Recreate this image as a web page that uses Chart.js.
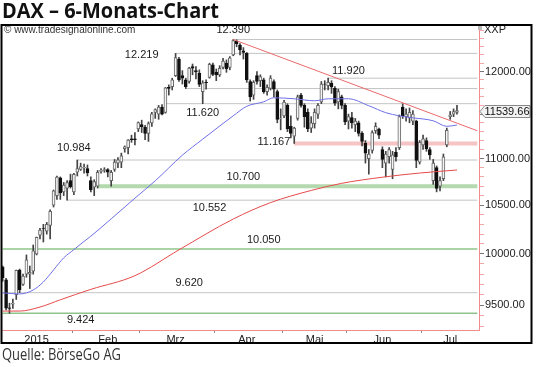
<!DOCTYPE html>
<html>
<head>
<meta charset="utf-8">
<script src="https://cdn.jsdelivr.net/npm/chart.js@4.4.1/dist/chart.umd.min.js"></script>
<style>
  body { margin: 0; background: #fff; width: 540px; height: 367px; overflow: hidden; position: relative; }
  canvas { position: absolute; left: 0; top: 0; }
  #title { position: absolute; left: 2px; top: 0; font: bold 21px "Open Sans"; line-height: 21px; color: #111;
           white-space: nowrap; transform: scaleX(0.95); transform-origin: 0 0; }
  #src { position: absolute; left: 2px; top: 346px; font: 16px "Open Sans"; line-height: 16px; color: #333;
         white-space: nowrap; transform: scaleX(0.81); transform-origin: 0 0; }
</style>
</head>
<body>
<canvas id="chart" width="540" height="367"></canvas>
<div id="title">DAX – 6-Monats-Chart</div>
<div id="src">Quelle: BörseGo AG</div>
<script>
// trading days, Jan 2 - Jul 15 2015
const days = [
  '02.01','05.01','06.01','07.01','08.01','09.01','12.01','13.01','14.01','15.01','16.01','19.01','20.01','21.01','22.01','23.01','26.01','27.01','28.01','29.01','30.01',
  '02.02','03.02','04.02','05.02','06.02','09.02','10.02','11.02','12.02','13.02','16.02','17.02','18.02','19.02','20.02','23.02','24.02','25.02','26.02','27.02',
  '02.03','03.03','04.03','05.03','06.03','09.03','10.03','11.03','12.03','13.03','16.03','17.03','18.03','19.03','20.03','23.03','24.03','25.03','26.03','27.03','30.03','31.03',
  '01.04','02.04','07.04','08.04','09.04','10.04','13.04','14.04','15.04','16.04','17.04','20.04','21.04','22.04','23.04','24.04','27.04','28.04','29.04','30.04',
  '04.05','05.05','06.05','07.05','08.05','11.05','12.05','13.05','14.05','15.05','18.05','19.05','20.05','21.05','22.05','26.05','27.05','28.05','29.05',
  '01.06','02.06','03.06','04.06','05.06','08.06','09.06','10.06','11.06','12.06','15.06','16.06','17.06','18.06','19.06','22.06','23.06','24.06','25.06','26.06','29.06','30.06',
  '01.07','02.07','03.07','06.07','07.07','08.07','09.07','10.07','13.07','14.07','15.07'
];
// empty slots on the right
const pad = ['p1','p2','p3','p4','p5','p6'];

const open = [
  9869, 9745, 9475, 9510, 9600, 9840, 9700, 9800, 9800, 9830, 10000, 10190, 10260, 10230, 10290, 10500, 10600, 10790, 10640, 10680, 10760,
  10640, 10850, 10880, 10900, 10890, 10760, 10690, 10700, 10860, 10870, 10880, 10760, 10880, 10950, 10960, 11110, 11120, 11220, 11220, 11330,
  11380, 11350, 11280, 11400, 11520, 11500, 11580, 11520, 11810, 11820, 11950, 12150, 11950, 11900, 11880, 12060, 12010, 11980, 11760, 11870, 11930, 12080,
  11990, 11960, 12050, 12100, 12050, 12200, 12370, 12320, 12250, 12220, 11880, 11720, 11950, 11890, 11900, 11760, 11800, 11880, 11760, 11450,
  11480, 11600, 11360, 11250, 11450, 11720, 11600, 11520, 11340, 11390, 11500, 11640, 11850, 11830, 11860, 11800, 11640, 11700, 11600,
  11420, 11460, 11380, 11400, 11280, 11170, 11000, 11090, 11310, 11330, 11100, 10950, 11020, 10880, 11070, 11120, 11580, 11470, 11460, 11420, 11420, 10960,
  11150, 11200, 11100, 10760, 10900, 10700, 10780, 11150, 11470, 11500, 11520
];
const high = [
  9880, 9760, 9520, 9560, 9840, 9850, 9800, 9990, 9880, 10090, 10170, 10260, 10300, 10320, 10450, 10660, 10810, 10800, 10740, 10760, 10830,
  10840, 10984, 10950, 10940, 10930, 10800, 10770, 10870, 10890, 10900, 10890, 10870, 10990, 11010, 11060, 11140, 11210, 11260, 11290, 11410,
  11430, 11370, 11410, 11520, 11560, 11600, 11610, 11810, 11840, 11920, 12219, 12170, 12010, 11920, 12050, 12090, 12060, 12020, 11890, 11900, 12100, 12100,
  12030, 12070, 12160, 12140, 12180, 12390, 12385, 12340, 12290, 12230, 11900, 11890, 12000, 11960, 11920, 11840, 11950, 11900, 11780, 11560,
  11660, 11620, 11480, 11350, 11720, 11740, 11620, 11560, 11470, 11560, 11620, 11880, 11890, 11920, 11890, 11820, 11790, 11720, 11620,
  11500, 11520, 11450, 11420, 11300, 11200, 11100, 11310, 11400, 11340, 11130, 11080, 11120, 11080, 11120, 11490, 11620, 11560, 11570, 11540, 11430, 11200,
  11260, 11230, 11120, 10990, 10920, 10800, 11050, 11340, 11530, 11560, 11600
];
const low = [
  9730, 9455, 9424, 9470, 9555, 9620, 9690, 9770, 9660, 9800, 9990, 10150, 10120, 10200, 10150, 10480, 10560, 10560, 10600, 10552, 10680,
  10610, 10810, 10870, 10840, 10810, 10640, 10600, 10680, 10840, 10850, 10800, 10700, 10860, 10900, 10900, 11070, 11050, 11180, 11150, 11300,
  11290, 11210, 11190, 11360, 11450, 11440, 11490, 11510, 11720, 11780, 11940, 11880, 11850, 11797, 11860, 11960, 11910, 11820, 11620, 11790, 11920, 11950,
  11890, 11940, 12030, 11990, 12020, 12190, 12300, 12200, 12150, 11870, 11650, 11670, 11850, 11820, 11740, 11720, 11780, 11700, 11400, 11320,
  11460, 11300, 11230, 11167, 11430, 11580, 11350, 11300, 11290, 11340, 11450, 11620, 11780, 11780, 11740, 11600, 11560, 11560, 11380,
  11330, 11340, 11300, 11250, 11140, 10950, 10830, 11060, 11280, 11220, 10900, 10800, 10950, 10780, 10970, 11100, 11450, 11420, 11400, 11380, 10900, 10940,
  11100, 11080, 10990, 10720, 10640, 10650, 10760, 11130, 11440, 11470, 11500
];
const close = [
  9765, 9473, 9470, 9518, 9838, 9648, 9782, 9941, 9817, 10032, 10168, 10242, 10257, 10299, 10436, 10650, 10798, 10629, 10711, 10738, 10694,
  10828, 10891, 10911, 10905, 10846, 10664, 10750, 10850, 10870, 10880, 10850, 10850, 10960, 10985, 11030, 11131, 11206, 11210, 11210, 11402,
  11356, 11281, 11390, 11504, 11551, 11582, 11500, 11806, 11799, 11901, 12168, 11900, 11920, 11820, 12040, 12041, 11996, 11845, 11865, 11868, 12086, 11966,
  11960, 12039, 12124, 12035, 12166, 12375, 12338, 12260, 12231, 11900, 11700, 11870, 11880, 11939, 11760, 11811, 11920, 11790, 11440, 11454,
  11640, 11330, 11280, 11340, 11700, 11600, 11470, 11330, 11400, 11520, 11600, 11850, 11848, 11870, 11815, 11625, 11760, 11600, 11410,
  11470, 11400, 11420, 11280, 11190, 11060, 11050, 11290, 11360, 11260, 10990, 11050, 11100, 11040, 11020, 11470, 11480, 11500, 11520, 11500, 10980, 11180,
  11220, 11110, 11040, 10950, 10676, 10760, 11020, 11316, 11490, 11530, 11539.66
];

// moving averages (blue short, red long)
const maShort = [
  ['02.01', 9618], ['09.01', 9608], ['15.01', 9646], ['20.01', 9724], ['23.01', 9841], ['28.01', 9961],
  ['02.02', 10043], ['05.02', 10126], ['09.02', 10179], ['17.02', 10357], ['26.02', 10573], ['06.03', 10758],
  ['18.03', 11037], ['26.03', 11215], ['10.04', 11480], ['16.04', 11590], ['23.04', 11642], ['28.04', 11689],
  ['07.05', 11677], ['15.05', 11654], ['21.05', 11677], ['01.06', 11677], ['09.06', 11596], ['16.06', 11516],
  ['22.06', 11480], ['26.06', 11457], ['06.07', 11423], ['10.07', 11360], ['15.07', 11375]
];
const maLong = [
  ['02.01', 9445], ['09.01', 9445], ['19.01', 9483], ['27.01', 9552], ['09.02', 9652], ['26.02', 9785],
  ['17.03', 10041], ['10.04', 10355], ['27.04', 10526], ['14.05', 10655], ['28.05', 10731], ['15.06', 10797],
  ['30.06', 10842], ['15.07', 10875]
];

// horizontal levels: value, first day
const grayLevels = [[12390, '10.04'], [12219, '16.03'], [11920, '21.05'], [11797, '19.03'], [11620, '11.03'],
                    [10984, '03.02'], [10552, '29.01'], [9620, '02.01']];
const greenLines = [[10050, '02.01'], [9424, '02.01']];
const greenBand = [10700, '11.02'];
const redBand = [11167, '07.05'];
const trend = [['10.04', 12390], ['p6', 11310]];

// level captions: text, day, value, vertical offset
const captions = [
  ['12.390', '10.04', 12390, -10], ['12.219', '02.03', 12219, 2], ['11.620', '26.03', 11620, 9],
  ['11.920', '01.06', 11920, -7], ['11.167', '28.04', 11167, -2], ['10.984', '02.02', 10984, -12],
  ['10.700', '15.04', 10700, -9], ['10.552', '30.03', 10552, 8], ['10.050', '23.04', 10050, -9],
  ['9.620', '20.03', 9620, -10], ['9.424', '04.02', 9424, 7]
];

const monthStarts = ['02.02', '02.03', '01.04', '04.05', '01.06', '01.07'];
const monthNames = { '16.01': '2015', '16.02': 'Feb', '16.03': 'Mrz', '16.04': 'Apr', '15.05': 'Mai', '15.06': 'Jun', '13.07': 'Jul' };

const yTicks = [9300, 9400, 9500, 9600, 9700, 9800, 9900, 10000, 10100, 10200, 10300, 10400, 10500, 10600, 10700,
                10800, 10900, 11000, 11100, 11200, 11300, 11400, 11500, 11600, 11700, 11800, 11900, 12000, 12100,
                12200, 12300, 12400, 12500];
const yMajor = [9500, 10000, 10500, 11000, 11500, 12000];

const labels = days.concat(pad);
const up = close.map((c, i) => c >= open[i]);

function levelLine(v, from, color, width) {
  return { type: 'line', data: [{ x: from, y: v }, { x: 'p6', y: v }], borderColor: color, borderWidth: width,
           pointRadius: 0, order: 10 };
}

const extras = {
  id: 'extras',
  afterDatasetsDraw(chart) {
    const { ctx, scales: { x, y } } = chart;
    ctx.save();
    ctx.fillStyle = '#1a1a1a';
    ctx.font = '11px Arial';
    ctx.textAlign = 'center';
    ctx.textBaseline = 'middle';
    captions.forEach(([t, d, v, dy]) => ctx.fillText(t, x.getPixelForValue(d), y.getPixelForValue(v) + dy));
    ctx.restore();
  },
  afterDraw(chart) {
    const { ctx, scales: { y }, chartArea: a } = chart;
    ctx.save();
    // source note top left
    ctx.fillStyle = '#333';
    ctx.font = '10px Arial';
    ctx.textBaseline = 'middle';
    ctx.fillText('© www.tradesignalonline.com', 4, 30);
    // axis header
    ctx.fillStyle = '#222';
    ctx.font = '11px Arial';
    ctx.fillText('XXP', a.right + 5, 30);
    ctx.fillStyle = '#bbb';
    ctx.fillRect(a.right - 1, 26, 4, 4);
    // last price box
    const last = close[close.length - 1];
    const py = Math.round(y.getPixelForValue(last)) + 0.5;
    ctx.beginPath();
    ctx.moveTo(a.right + 1, py);
    ctx.lineTo(a.right + 6, py - 6);
    ctx.lineTo(530, py - 6);
    ctx.lineTo(530, py + 6);
    ctx.lineTo(a.right + 6, py + 6);
    ctx.closePath();
    ctx.fillStyle = '#f2f2f2';
    ctx.fill();
    ctx.strokeStyle = '#888';
    ctx.lineWidth = 1;
    ctx.stroke();
    ctx.fillStyle = '#111';
    ctx.textAlign = 'center';
    ctx.fillText(last.toFixed(2), 507, py + 0.5);
    // outer frame
    ctx.strokeStyle = '#000';
    ctx.lineWidth = 2;
    ctx.strokeRect(1.5, 25, 530, 318);
    ctx.restore();
  }
};

new Chart(document.getElementById('chart'), {
  type: 'bar',
  data: {
    labels: labels,
    datasets: [
      { type: 'line', data: trend.map(([d, v]) => ({ x: d, y: v })), borderColor: '#ea6a6a', borderWidth: 1,
        pointRadius: 0, order: 1 },
      { type: 'line', data: maShort.map(([d, v]) => ({ x: d, y: v })), borderColor: '#6f6fe6', borderWidth: 1,
        pointRadius: 0, cubicInterpolationMode: 'monotone', order: 2 },
      { type: 'line', data: maLong.map(([d, v]) => ({ x: d, y: v })), borderColor: '#e64a4a', borderWidth: 1,
        pointRadius: 0, cubicInterpolationMode: 'monotone', order: 2 },
      { data: days.map((d, i) => [open[i], close[i]]), backgroundColor: up.map(u => u ? '#f4f4f4' : '#111'),
        borderColor: up.map(u => u ? '#666' : '#111'), borderWidth: 1, borderSkipped: false,
        barThickness: 3, grouped: false, order: 4 },
      { data: days.map((d, i) => [low[i], high[i]]), backgroundColor: '#444', barThickness: 1, grouped: false, order: 5 },
      levelLine(redBand[0], redBand[1], '#f6c4c4', 4),
      levelLine(greenBand[0], greenBand[1], '#b4d9ae', 4),
      ...greenLines.map(([v, d]) => levelLine(v, d, '#8ec489', 1.5)),
      ...grayLevels.map(([v, d]) => levelLine(v, d, '#c4c4c4', 1))
    ]
  },
  options: {
    responsive: false,
    animation: false,
    events: [],
    layout: { padding: { left: 1, top: 26, right: 9, bottom: 25 } },
    plugins: { legend: { display: false }, tooltip: { enabled: false } },
    scales: {
      x: {
        type: 'category',
        offset: true,
        afterFit: s => { s.height = 12; },
        border: { color: '#f08c8c', width: 1 },
        grid: { drawOnChartArea: false, offset: true, tickLength: 3,
                tickColor: c => monthStarts.includes(labels[c.index]) ? '#888' : 'rgba(0,0,0,0)' },
        ticks: { autoSkip: false, maxRotation: 0, padding: 0, color: '#222', font: { family: 'Arial', size: 11 },
                 callback: (v, i) => monthNames[labels[i]] || '' }
      },
      y: {
        type: 'logarithmic',
        position: 'right',
        min: 9268,
        max: 12558,
        afterBuildTicks: s => { s.ticks = yTicks.map(v => ({ value: v })); },
        afterFit: s => { s.width = 52; },
        border: { color: '#f08c8c', width: 1 },
        grid: { drawOnChartArea: false, tickLength: 5,
                tickColor: c => yMajor.includes(c.tick && c.tick.value) ? '#777' : '#f3a6a6' },
        ticks: { autoSkip: false, padding: 1, color: '#222', font: { family: 'Arial', size: 11 },
                 callback: v => (yMajor.includes(v) && v !== 11500) ? v.toFixed(2) : '' }
      }
    }
  },
  plugins: [extras]
});
</script>
</body>
</html>
